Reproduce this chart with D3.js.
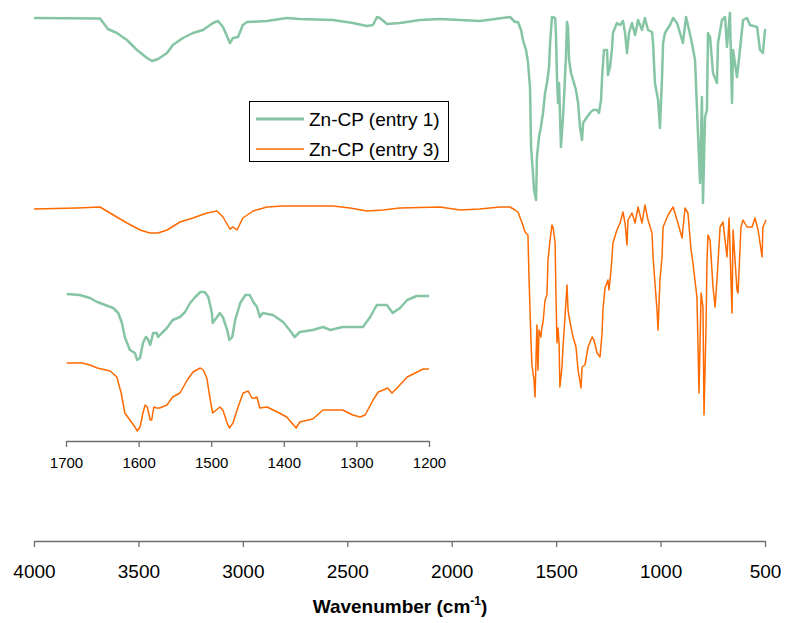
<!DOCTYPE html>
<html><head><meta charset="utf-8">
<script src="https://cdn.jsdelivr.net/npm/d3@7/dist/d3.min.js"></script>
<style>body{margin:0;background:#fff}svg{display:block}text{font-family:"Liberation Sans",Arial,sans-serif;fill:#000}</style>
</head><body><svg id="c" width="787" height="623"></svg>
<script>
// Main spectrum ticks
const mainTicks = [4000, 3500, 3000, 2500, 2000, 1500, 1000, 500];
const insetTicks = [1700, 1600, 1500, 1400, 1300, 1200];
const seriesNames = ["Zn-CP (entry 1)", "Zn-CP (entry 3)"];
// [wavenumber, transmittance (a.u., offset)]
const entry1 = [[4000,522],[3684,521.5],[3646,511],[3603,507],[3555,500],[3507,490],[3459,482],[3435,479],[3406,481],[3363,487],[3335,495],[3287,502],[3239,507],[3191,510],[3143,517],[3119,519],[3095,513],[3062,497],[3047,502],[3023,503],[3000,515],[2980,518],[2885,519],[2789,522],[2727,521],[2569,520],[2473,517],[2406,514],[2377,515],[2358,523],[2344,522],[2310,516],[2248,517],[2152,520],[2056,521],[1960,520],[1865,519],[1721,523],
[1697,518],[1683,518],[1668,510],[1659,500],[1644,490],[1635,478],[1625,452],[1620,393],[1611,367],[1606,350],[1596,340],[1592,383],[1582,403],[1573,413],[1563,427],[1553,447],[1544,457],[1534,473],[1529,497],[1520,523],[1505,522],[1501,507],[1496,463],[1491,437],[1486,457],[1477,393],[1467,423],[1462,443],[1453,483],[1448,518],[1443,513],[1438,480],[1429,467],[1419,460],[1405,450],[1395,437],[1386,413],[1376,400],[1371,417],[1352,423],[1338,427],[1324,430],[1304,430],[1295,427],[1285,440],[1280,463],[1271,490],[1256,490],[1252,465],[1242,473],[1233,490],[1228,507],[1209,517],[1194,515],[1180,519],
[1170,507],[1161,487],[1151,507],[1137,517],[1122,505],[1108,520],[1089,510],[1075,522],[1060,510],[1041,508],[1036,497],[1027,457],[1012,440],[1003,412],[993,463],[988,497],[979,507],[955,515],[940,522],[921,517],[907,507],[893,497],[878,523],[869,515],[850,497],[835,480],[821,407],[811,357],[802,443],[797,337],[787,423],[778,430],[773,507],[763,503],[749,467],[730,457],[725,497],[706,520],[691,523],[682,493],[668,527],[658,437],[653,490],[634,463],[620,490],[605,520],[586,522],[572,515],[538,513],[524,490],[510,487],[500,510],[495,510]];
const entry3 = [[4000,331],[3794,332],[3684,333],[3636,327],[3555,317],[3492,310],[3445,307],[3406,307],[3363,310],[3301,318],[3239,322],[3172,327],[3124,329],[3095,323],[3062,311],[3047,313],[3028,310],[3000,322],[2951,329],[2885,333],[2808,334],[2568,334],[2487,332],[2406,329],[2329,330],[2248,332],[2056,333],[1960,330],[1865,331],[1769,333],[1721,333],
[1697,330],[1683,328],[1663,317],[1649,308],[1635,305],[1630,263],[1620,197],[1616,175],[1606,160],[1601,143],[1596,183],[1592,215],[1587,170],[1582,210],[1573,203],[1568,213],[1563,217],[1553,240],[1544,245],[1539,280],[1529,300],[1520,315],[1515,313],[1505,297],[1501,247],[1496,197],[1491,212],[1486,197],[1482,153],[1472,173],[1467,193],[1458,222],[1448,255],[1443,230],[1438,223],[1429,213],[1419,203],[1405,193],[1395,170],[1381,152],[1376,173],[1362,175],[1347,193],[1328,203],[1319,200],[1304,187],[1290,183],[1280,207],[1276,230],[1266,252],[1252,260],[1247,250],[1237,270],[1228,297],[1209,310],[1194,317],[1180,328],
[1170,317],[1161,295],[1156,320],[1137,327],[1122,317],[1108,333],[1089,317],[1075,335],[1060,320],[1041,307],[1036,283],[1027,257],[1017,230],[1012,210],[1003,260],[993,283],[988,313],[964,325],[940,333],[917,317],[897,302],[883,332],[869,327],[854,290],[845,277],[826,243],[821,197],[816,147],[806,247],[797,233],[792,125],[782,217],[778,277],[773,305],[763,300],[749,253],[739,233],[730,260],[715,313],[701,318],[682,283],[672,322],[658,227],[653,310],[634,250],[629,247],[615,313],[605,320],[586,313],[562,313],[548,322],[533,310],[514,283],[510,313],[495,320]];
// inset (1700-1200 cm-1) expanded traces
const inset1 = [[1699,246],[1681,245],[1667,242],[1657,238],[1635,232],[1628,227],[1623,217],[1619,203],[1612,190],[1605,187],[1602,180],[1598,182],[1594,197],[1590,203],[1588,202],[1584,195],[1580,207],[1575,207],[1573,203],[1568,207],[1561,212],[1553,220],[1543,223],[1536,228],[1529,237],[1522,243],[1515,248],[1509,248],[1504,243],[1499,227],[1498,217],[1492,223],[1488,227],[1484,223],[1478,210],[1475,200],[1471,203],[1467,220],[1460,237],[1453,245],[1447,245],[1442,238],[1437,233],[1433,223],[1429,227],[1415,225],[1401,218],[1392,210],[1385,203],[1378,208],[1360,210],[1346,213],[1336,210],[1319,213],[1305,213],[1291,213],[1281,223],[1272,235],[1258,235],[1250,227],[1240,232],[1230,240],[1217,244],[1200,244]];
const inset3 = [[1699,177],[1678,177],[1667,175],[1657,172],[1639,169],[1630,163],[1624,147],[1619,127],[1612,120],[1605,113],[1602,109],[1598,113],[1594,127],[1591,135],[1588,133],[1584,120],[1582,120],[1579,133],[1575,132],[1571,132],[1561,135],[1553,143],[1543,147],[1533,160],[1525,168],[1515,172],[1511,170],[1506,162],[1502,143],[1498,127],[1488,133],[1484,130],[1478,117],[1475,112],[1470,117],[1463,133],[1456,147],[1449,149],[1444,142],[1440,142],[1437,143],[1433,132],[1423,133],[1409,128],[1396,123],[1389,117],[1383,112],[1378,118],[1360,121],[1346,130],[1319,130],[1305,125],[1295,123],[1288,125],[1277,140],[1270,148],[1263,150],[1257,152],[1251,147],[1244,152],[1230,163],[1208,171],[1200,171]];

const GREEN = "#86c5a4", ORANGE = "#ff6a00";
const svg = d3.select("#c");
const x = d3.scaleLinear().domain([4000, 500]).range([34, 765]);
const xi = d3.scaleLinear().domain([1700, 1200]).range([66, 429]);
const y = d3.scaleLinear().domain([0, 540]).range([540, 0]);

const lineMain = d3.line().x(d => x(d[0])).y(d => y(d[1]));
const lineInset = d3.line().x(d => xi(d[0])).y(d => y(d[1]));

function drawAxis(g, scale, ticks, fs, labelOffset) {
  const ax = d3.axisBottom(scale).tickValues(ticks).tickSize(6).tickSizeOuter(0).tickFormat(d3.format("d"));
  g.call(ax);
  g.select(".domain").attr("stroke", "#6e6e6e").attr("stroke-width", 1.3);
  g.selectAll(".tick line").attr("stroke", "#6e6e6e").attr("stroke-width", 1.3);
  g.selectAll(".tick text").attr("font-size", fs).attr("font-family", '"Liberation Sans",Arial,sans-serif')
    .attr("fill", "#000").attr("y", labelOffset).attr("dy", 0);
}

drawAxis(svg.append("g").attr("transform", "translate(0,541)"), x, mainTicks, 19, 37);
drawAxis(svg.append("g").attr("transform", "translate(0,441)"), xi, insetTicks, 15, 27);

svg.append("path").datum(entry1).attr("d", lineMain).attr("fill", "none").attr("stroke", GREEN).attr("stroke-width", 2.5).attr("stroke-linejoin", "round");
svg.append("path").datum(entry3).attr("d", lineMain).attr("fill", "none").attr("stroke", ORANGE).attr("stroke-width", 1.5).attr("stroke-linejoin", "round");
svg.append("path").datum(inset1).attr("d", lineInset).attr("fill", "none").attr("stroke", GREEN).attr("stroke-width", 2.5).attr("stroke-linejoin", "round");
svg.append("path").datum(inset3).attr("d", lineInset).attr("fill", "none").attr("stroke", ORANGE).attr("stroke-width", 1.5).attr("stroke-linejoin", "round");

// axis title
const t = svg.append("text").attr("x", 400).attr("y", 613).attr("text-anchor", "middle")
  .attr("font-size", 19).attr("font-weight", "bold");
t.append("tspan").text("Wavenumber (cm");
t.append("tspan").attr("font-size", 12).attr("dy", -8).text("-1");
t.append("tspan").attr("dy", 8).text(")");

// legend
const lg = svg.append("g");
lg.append("rect").attr("x", 249.5).attr("y", 101.5).attr("width", 199).attr("height", 60)
  .attr("fill", "#fff").attr("stroke", "#000").attr("stroke-width", 1);
const cols = [GREEN, ORANGE], widths = [3, 1.5];
seriesNames.forEach((n, i) => {
  const yy = 119 + i * 30;
  lg.append("line").attr("x1", 256).attr("x2", 304).attr("y1", yy).attr("y2", yy)
    .attr("stroke", cols[i]).attr("stroke-width", widths[i]);
  lg.append("text").attr("x", 309).attr("y", yy + 7).attr("font-size", 19).text(n);
});
</script></body></html>
